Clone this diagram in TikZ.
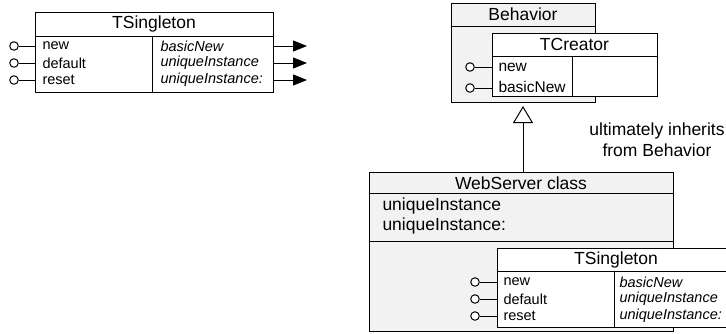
\documentclass[tikz,border=0pt]{standalone}
\usepackage{fontspec}
\setmainfont{Liberation Sans}
\usetikzlibrary{arrows.meta}
\definecolor{boxgray}{HTML}{F2F2F2}
\begin{document}
\begin{tikzpicture}[x=1pt,y=-1pt,line width=1pt,
  box/.style={draw,rectangle,anchor=north west,inner sep=0pt,outer sep=0pt},
  port/.style={draw,circle,minimum size=8.5pt,inner sep=0pt,fill=white,line width=1pt},
  titletxt/.style={inner sep=0pt,font=\fontsize{17.5}{21}\selectfont},
  bigtxt/.style={anchor=west,inner sep=0pt,font=\fontsize{17.5}{21}\selectfont},
  rowtxt/.style={anchor=west,inner sep=0pt,font=\fontsize{14.5}{17}\selectfont},
  itxt/.style={anchor=west,inner sep=0pt,font=\fontsize{14.5}{17}\selectfont\itshape},
  crtxt/.style={anchor=west,inner sep=0pt,font=\fontsize{15.5}{19}\selectfont},
  outarrow/.style={-{Triangle[length=14pt,width=11pt]}},
  inherit/.style={-{Triangle[open,length=17pt,width=20pt]},shorten >=4pt}
]
\clip (0,0) rectangle (726,333);

% ---------- top-left TSingleton ----------
\node[box,fill=white,minimum width=238pt,minimum height=80pt] (ts1) at (35,12) {};
\node[titletxt] (ts1t) at (154,24) {TSingleton};
\draw (35,36) -- (273,36);
\draw (152,36) -- (152,92);
\node[rowtxt] (ts1a) at (42,46) {new};
\node[rowtxt] (ts1b) at (42,63) {default};
\node[rowtxt] (ts1c) at (42,80) {reset};
\node[itxt] (ts1d) at (160,46) {basicNew};
\node[itxt] (ts1e) at (160,63) {uniqueInstance};
\node[itxt] (ts1f) at (160,80) {uniqueInstance:};
\node[port] (p1) at (14,46) {};
\node[port] (p2) at (14,63) {};
\node[port] (p3) at (14,80) {};
\draw (p1) -- (p1 -| ts1.west);
\draw (p2) -- (p2 -| ts1.west);
\draw (p3) -- (p3 -| ts1.west);
\coordinate (o1) at (307,46);
\coordinate (o2) at (307,63);
\coordinate (o3) at (307,80);
\draw[outarrow] (o1 -| ts1.east) -- (o1);
\draw[outarrow] (o2 -| ts1.east) -- (o2);
\draw[outarrow] (o3 -| ts1.east) -- (o3);

% ---------- Behavior / TCreator ----------
\node[box,fill=boxgray,minimum width=144pt,minimum height=99pt] (beh) at (451,3) {};
\node[titletxt] (beht) at (523,14.5) {Behavior};
\draw (451,26) -- (595,26);
\node[box,fill=white,minimum width=165pt,minimum height=63pt] (tcr) at (492,33) {};
\node[titletxt] (tcrt) at (574.5,44.5) {TCreator};
\draw (492,56) -- (657,56);
\draw (572,56) -- (572,96);
\node[crtxt] (tcra) at (498,67) {new};
\node[crtxt] (tcrb) at (498,87) {basicNew};
\node[port] (q1) at (470,67) {};
\node[port] (q2) at (470,88) {};
\draw (q1) -- (q1 -| tcr.west);
\draw (q2) -- (q2 -| tcr.west);

\node[align=center,inner sep=0pt,font=\fontsize{17.5}{21}\selectfont] (note) at (657,140) {ultimately inherits\\from Behavior};

% ---------- WebServer class ----------
\node[box,fill=boxgray,minimum width=304pt,minimum height=159pt] (web) at (369,172) {};
\node[titletxt] (webt) at (521,183) {WebServer class};
\draw (369,193) -- (673,193);
\draw (369,241) -- (673,241);
\node[bigtxt] (weba) at (382,206) {uniqueInstance};
\node[bigtxt] (webb) at (382,226) {uniqueInstance:};

\coordinate (inh) at (523,102);
\draw[inherit] (web.north -| inh) -- (inh);

% ---------- inner TSingleton ----------
\node[box,fill=white,minimum width=238pt,minimum height=79pt] (ts2) at (497,248) {};
\node[titletxt] (ts2t) at (616,259.5) {TSingleton};
\draw (497,271) -- (735,271);
\draw (614,271) -- (614,327);
\node[rowtxt] (ts2a) at (503,282) {new};
\node[rowtxt] (ts2b) at (503,299) {default};
\node[rowtxt] (ts2c) at (503,316) {reset};
\node[itxt] (ts2d) at (619,282) {basicNew};
\node[itxt] (ts2e) at (619,299) {uniqueInstance};
\node[itxt] (ts2f) at (619,316) {uniqueInstance:};
\node[port] (r1) at (475,282) {};
\node[port] (r2) at (475,299) {};
\node[port] (r3) at (475,316) {};
\draw (r1) -- (r1 -| ts2.west);
\draw (r2) -- (r2 -| ts2.west);
\draw (r3) -- (r3 -| ts2.west);
\end{tikzpicture}
\end{document}
